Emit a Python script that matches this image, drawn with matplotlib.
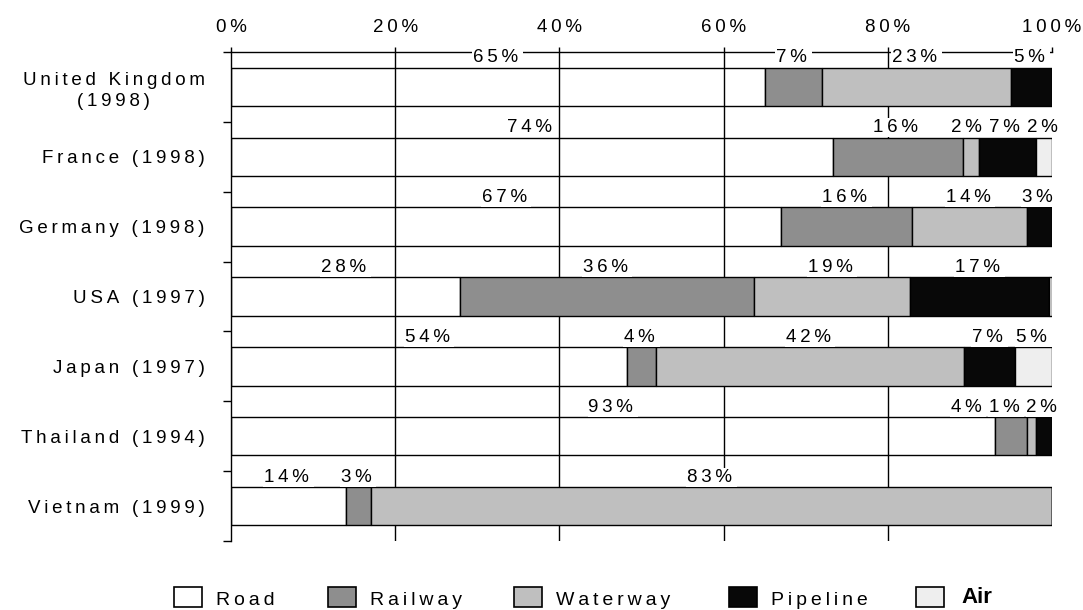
import numpy as np
import matplotlib.pyplot as plt
from matplotlib.patches import Rectangle

plt.rcParams['font.family'] = ['Liberation Sans', 'DejaVu Sans']

countries = ["United Kingdom\n(1998)", "France (1998)", "Germany (1998)", "USA (1997)",
             "Japan (1997)", "Thailand (1994)", "Vietnam (1999)"]
modes = ["Road", "Railway", "Waterway", "Pipeline", "Air"]

# modal split in percent (as reported, rows not always summing to 100)
road = [65, 74, 67, 28, 54, 93, 14]
railway = [7, 16, 16, 36, 4, 4, 3]
waterway = [23, 2, 14, 19, 42, 1, 83]
pipeline = [5, 7, 3, 17, 7, 2, 0]
air = [0, 2, 0, 0.4, 5, 0, 0]

colors = ["none", "#8e8e8e", "#bfbfbf", "#080808", "#eeeeee"]
legend_colors = ["white", "#8e8e8e", "#bfbfbf", "#080808", "#eeeeee"]

THIN = "\u2009"


def spaced(s):
    # wide letter spacing like the original typesetting
    return "\n".join(THIN.join(line) for line in s.split("\n"))


W, H = 1083, 610
fig = plt.figure(figsize=(W / 100, H / 100), dpi=100)
ax = fig.add_axes([231 / W, 1 - 541 / H, (1052 - 231) / W, (541 - 52) / H])

data = np.array([road, railway, waterway, pipeline, air], dtype=float)
shares = data / data.sum(axis=0) * 100
n = len(countries)
y = np.arange(n)
bar_h = 0.55

left = np.zeros(n)
for k in range(len(modes)):
    ax.barh(y, shares[k], left=left, height=bar_h, color=colors[k],
            edgecolor="black", linewidth=1.0, zorder=2)
    left += shares[k]

# value labels above each bar, pushed apart where segments are narrow
starts = np.cumsum(shares, axis=0) - shares
for i in range(n):
    items = [(starts[k, i] + shares[k, i] / 2, data[k, i])
             for k in range(len(modes)) if data[k, i] >= 0.5]
    xs = [c for c, _ in items]
    gap = 4.6
    for j in range(len(xs) - 1, -1, -1):
        if j == len(xs) - 1:
            xs[j] = min(xs[j], 100)
        else:
            xs[j] = min(xs[j], xs[j + 1] - gap)
    for (c, v), xpos in zip(items, xs):
        ax.text(xpos, i - 0.415, spaced(f"{v:.0f}%") + THIN, ha="center", va="center",
                fontsize=13.5, zorder=6, clip_on=False,
                bbox=dict(boxstyle="square,pad=0.05", fc="white", ec="none"))

ax.set_xlim(0, 100)
ax.set_ylim(n - 0.5, -0.5)
ax.xaxis.tick_top()
ax.set_xticks(np.arange(0, 101, 20))
ax.set_xticklabels([spaced(f"{t}%") for t in range(0, 101, 20)], fontsize=13.5)
ax.tick_params(axis="x", direction="out", length=3.6, width=1, pad=8, colors="black")

# vertical gridlines behind the bars (none at 0 and 100)
ax.xaxis.grid(True, color="black", linewidth=1)
gl = ax.get_xgridlines()
gl[0].set_visible(False)
gl[-1].set_visible(False)
ax.set_axisbelow(True)

ax.set_yticks(y)
ax.set_yticklabels([spaced(c) for c in countries], fontsize=13.5)
for lab in ax.get_yticklabels():
    lab.set_multialignment("center")
    lab.set_linespacing(1.35)
ax.set_yticks(np.arange(-0.5, n), minor=True)
ax.tick_params(axis="y", which="major", length=0, pad=19)
ax.tick_params(axis="y", which="minor", length=5.8, width=1, direction="out")

for side in ["right", "bottom"]:
    ax.spines[side].set_visible(False)
for side in ["top", "left"]:
    ax.spines[side].set_linewidth(1)

# legend row along the bottom edge
box_left = [174, 328, 514, 729, 916]
for k, mode in enumerate(modes):
    x0 = box_left[k]
    fig.add_artist(Rectangle((x0 / W, 1 - 607 / H), 28 / W, 20 / H,
                             transform=fig.transFigure, facecolor=legend_colors[k],
                             edgecolor="black", linewidth=1.2))
    if mode == "Air":
        fig.text((x0 + 45) / W, 1 - 608 / H, mode, fontsize=16, fontweight="bold",
                 ha="left", va="bottom")
    else:
        fig.text((x0 + 42) / W, 1 - 605 / H, spaced(mode), fontsize=14,
                 ha="left", va="baseline")

fig.savefig("out.png", dpi=100)
